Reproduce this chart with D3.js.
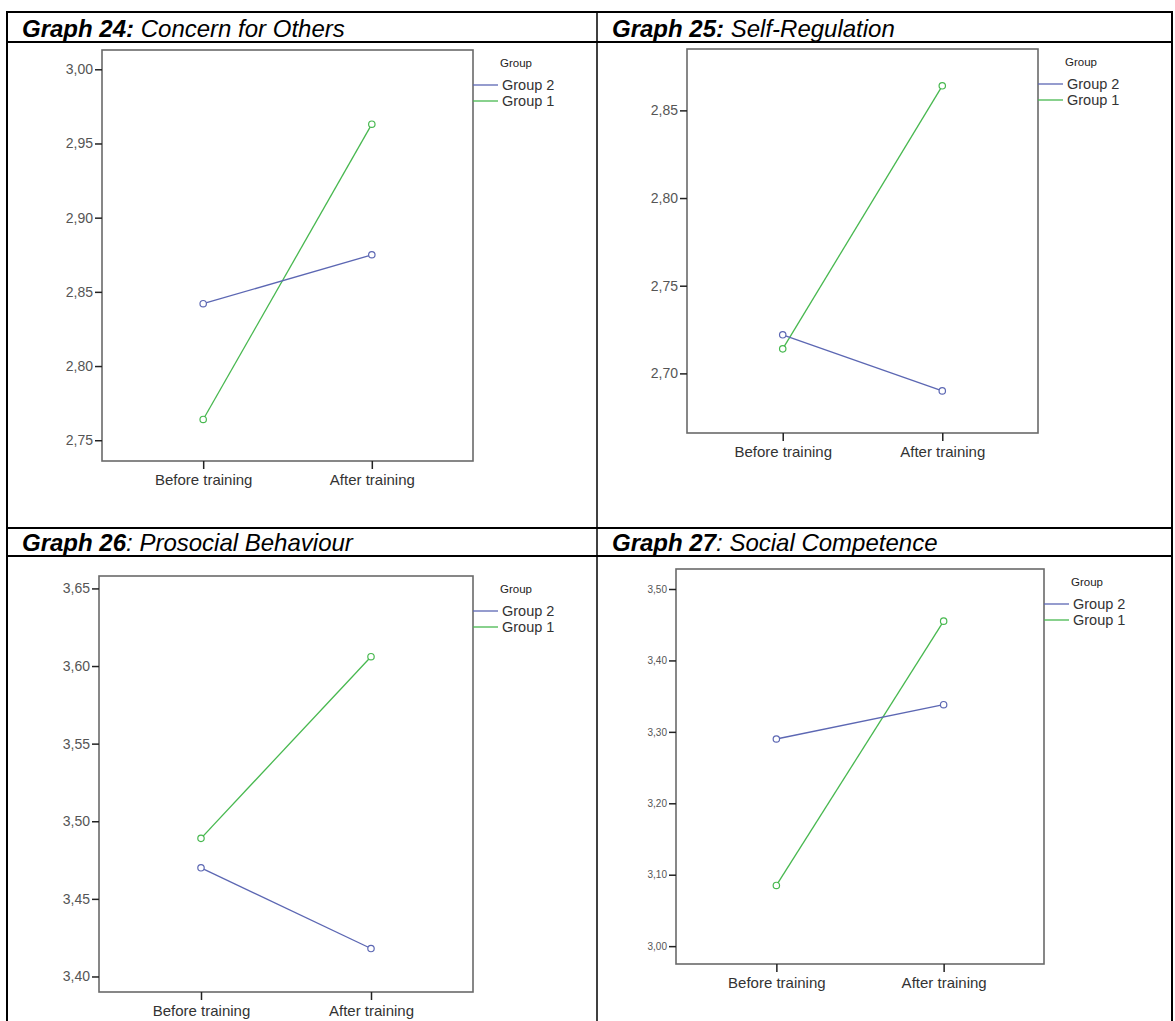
<!DOCTYPE html>
<html>
<head>
<meta charset="utf-8">
<script src="https://cdn.jsdelivr.net/npm/d3@7"></script>
<style>
  body { margin: 0; background: #fff; }
  text { font-family: "Liberation Sans", Arial, sans-serif; }
</style>
</head>
<body>
<div id="chart"></div>
<script>
// categories
const conditions = ["Before training", "After training"];
const groups = ["Group 2", "Group 1"];

// panel titles
const graphNumbers = ["Graph 24:", "Graph 25:", "Graph 26", "Graph 27"];
const graphNames = [" Concern for Others", " Self-Regulation", ": Prosocial Behaviour", ": Social Competence"];

// series values (estimated means)
const concernGroup2 = [2.842, 2.875];
const concernGroup1 = [2.764, 2.963];
const selfRegGroup2 = [2.722, 2.690];
const selfRegGroup1 = [2.714, 2.864];
const prosocialGroup2 = [3.470, 3.418];
const prosocialGroup1 = [3.489, 3.606];
const socialGroup2 = [3.290, 3.338];
const socialGroup1 = [3.085, 3.455];

// y axis ticks and ranges
const concernTicks = [2.75, 2.80, 2.85, 2.90, 2.95, 3.00];
const selfRegTicks = [2.70, 2.75, 2.80, 2.85];
const prosocialTicks = [3.40, 3.45, 3.50, 3.55, 3.60, 3.65];
const socialTicks = [3.00, 3.10, 3.20, 3.30, 3.40, 3.50];
const concernDomain = [2.736, 3.013];
const selfRegDomain = [2.666, 2.885];
const prosocialDomain = [3.390, 3.658];
const socialDomain = [2.975, 3.528];

const width = 1175, height = 1021;
const blue = "#5c67b3", green = "#47b84f";

const svg = d3.select("#chart").append("svg")
  .attr("width", width).attr("height", height);

const commaFmt = d3.formatLocale({ decimal: ",", thousands: ".", grouping: [3], currency: ["", ""] }).format(".2f");

// table frame
const tbl = svg.append("g").attr("stroke", "#000").attr("fill", "none");
tbl.append("rect").attr("x", 7).attr("y", 12).attr("width", 1165).attr("height", 30).attr("stroke-width", 2);
tbl.append("rect").attr("x", 7).attr("y", 528).attr("width", 1165).attr("height", 28).attr("stroke-width", 2);
tbl.append("line").attr("x1", 7).attr("x2", 7).attr("y1", 12).attr("y2", height).attr("stroke-width", 2);
tbl.append("line").attr("x1", 1172).attr("x2", 1172).attr("y1", 12).attr("y2", height).attr("stroke-width", 2);
tbl.append("line").attr("x1", 597).attr("x2", 597).attr("y1", 12).attr("y2", height).attr("stroke-width", 1.5);

const panels = [
  { num: 0, g2: concernGroup2, g1: concernGroup1, ticks: concernTicks, domain: concernDomain,
    x0: 102, x1: 473, y0: 50, y1: 461, titleX: 22, titleY: 37, fs: 14 },
  { num: 1, g2: selfRegGroup2, g1: selfRegGroup1, ticks: selfRegTicks, domain: selfRegDomain,
    x0: 687, x1: 1038, y0: 49, y1: 433, titleX: 612, titleY: 37, fs: 14 },
  { num: 2, g2: prosocialGroup2, g1: prosocialGroup1, ticks: prosocialTicks, domain: prosocialDomain,
    x0: 99, x1: 473, y0: 576, y1: 992, titleX: 22, titleY: 551, fs: 14 },
  { num: 3, g2: socialGroup2, g1: socialGroup1, ticks: socialTicks, domain: socialDomain,
    x0: 676, x1: 1044, y0: 569, y1: 964, titleX: 612, titleY: 551, fs: 10 }
];

panels.forEach(function (p) {
  const g = svg.append("g");

  // title
  const title = g.append("text")
    .attr("x", p.titleX).attr("y", p.titleY)
    .attr("font-size", 24).attr("font-style", "italic").attr("fill", "#000");
  title.append("tspan").attr("font-weight", "bold").text(graphNumbers[p.num]);
  title.append("tspan").text(graphNames[p.num]);

  const xScale = d3.scalePoint().domain(conditions).range([p.x0, p.x1]).padding(0.6);
  const yScale = d3.scaleLinear().domain(p.domain).range([p.y1, p.y0]);

  // plot frame
  g.append("rect")
    .attr("x", p.x0).attr("y", p.y0)
    .attr("width", p.x1 - p.x0).attr("height", p.y1 - p.y0)
    .attr("fill", "none").attr("stroke", "#6a6a6a").attr("stroke-width", 1.6);

  const yAxis = g.append("g")
    .attr("transform", `translate(${p.x0}, 0)`)
    .call(d3.axisLeft(yScale).tickValues(p.ticks).tickFormat(commaFmt).tickSize(7).tickPadding(2));
  yAxis.select(".domain").remove();
  yAxis.selectAll("line").attr("stroke", "#222").attr("stroke-width", 1.5);
  yAxis.selectAll("text").attr("font-size", p.fs).attr("fill", "#555")
    .attr("font-family", "'Liberation Sans', Arial, sans-serif");

  const xAxis = g.append("g")
    .attr("transform", `translate(0, ${p.y1})`)
    .call(d3.axisBottom(xScale).tickSize(8).tickPadding(5));
  xAxis.select(".domain").remove();
  xAxis.selectAll("line").attr("stroke", "#222").attr("stroke-width", 1.5);
  xAxis.selectAll("text").attr("font-size", 15).attr("fill", "#333")
    .attr("font-family", "'Liberation Sans', Arial, sans-serif");

  const line = d3.line()
    .x((d, i) => xScale(conditions[i]))
    .y(d => yScale(d));

  [[p.g1, green], [p.g2, blue]].forEach(function ([vals, col]) {
    g.append("path").datum(vals)
      .attr("d", line).attr("fill", "none")
      .attr("stroke", col).attr("stroke-width", 1.3);
    g.selectAll(null).data(vals).enter().append("circle")
      .attr("cx", (d, i) => xScale(conditions[i]))
      .attr("cy", d => yScale(d))
      .attr("r", 3.2)
      .attr("fill", "#fff").attr("stroke", col).attr("stroke-width", 1.2);
  });

  // legend
  const lg = g.append("g").attr("transform", `translate(${p.x1}, ${p.y0})`);
  lg.append("text").attr("x", 27).attr("y", 17).attr("font-size", 11.5).attr("fill", "#222").text("Group");
  groups.forEach(function (name, i) {
    const ly = 35 + i * 16;
    lg.append("line").attr("x1", 0).attr("x2", 25).attr("y1", ly).attr("y2", ly)
      .attr("stroke", i === 0 ? blue : green).attr("stroke-width", 1.3);
    lg.append("text").attr("x", 29).attr("y", ly + 5)
      .attr("font-size", 14.5).attr("fill", "#333").text(name);
  });
});
</script>
</body>
</html>
